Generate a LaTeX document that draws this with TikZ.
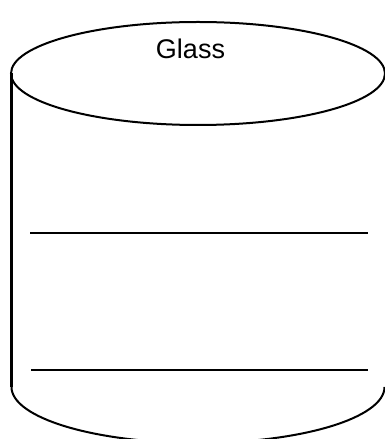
\documentclass[tikz,border=0pt]{standalone}
\usepackage{fontspec}
\setmainfont{Liberation Sans}
\begin{document}
\begin{tikzpicture}[x=1pt,y=1pt,
  outline/.style={draw=black,line width=2pt},
  side/.style={draw=black,line width=2.6pt},
  level/.style={draw=black,line width=2.2pt},
  title/.style={font=\fontsize{27}{30}\selectfont,inner sep=0pt,anchor=center}]
\useasboundingbox (0,0) rectangle (385,439);
% top ellipse
\draw[outline] (198,365.5) ellipse [x radius=187, y radius=51.5];
% left side
\draw[side] (11.5,365.5) -- (11.5,52);
% bottom arc
\draw[outline] (11.5,52) arc [start angle=180, end angle=360, x radius=186.5, y radius=56];
% fill level lines
\draw[level] (30,206) -- (368,206);
\draw[level] (31,69) -- (368,69);
% label
\node[title] (label) at (190.5,390.5) {Glass};
\end{tikzpicture}
\end{document}
